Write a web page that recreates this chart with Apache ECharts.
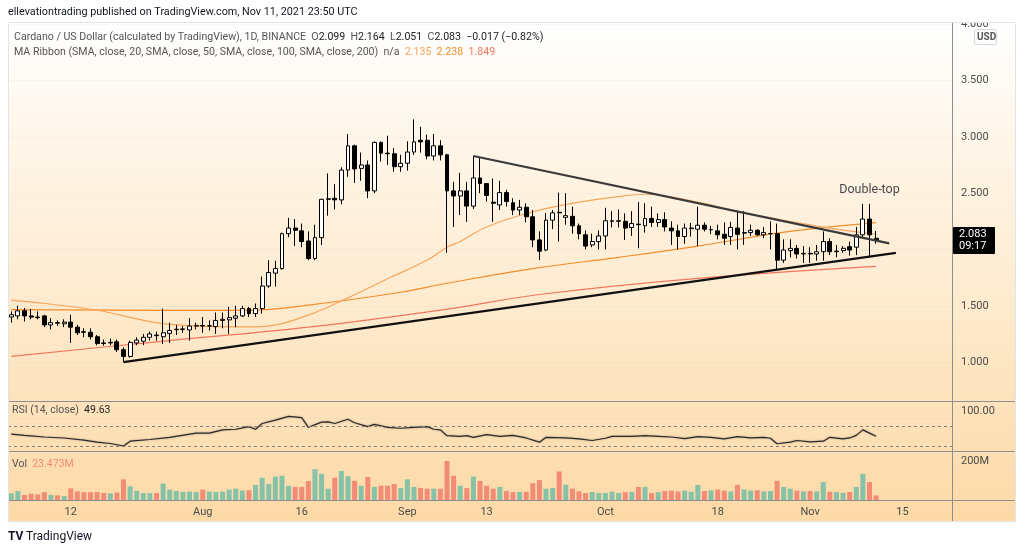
<!DOCTYPE html>
<html><head><meta charset="utf-8">
<script src="https://cdn.jsdelivr.net/npm/echarts@6/dist/echarts.min.js"></script>
<style>html,body{margin:0;padding:0;background:#fff}#c{width:1024px;height:554px}</style>
</head><body><div id="c"></div>
<script>
// ---------- DATA ----------
const startDate = '2021-07-03';
const totalDays = 143; // Jul 3 .. Nov 22 (empty future space after Nov 11)
// [open, close, low, high]
const candles = [
[1.40,1.42,1.35,1.45],[1.41,1.455,1.38,1.50],[1.455,1.41,1.36,1.48],[1.41,1.40,1.38,1.47],[1.40,1.395,1.38,1.45],
[1.41,1.33,1.31,1.42],[1.33,1.35,1.29,1.39],[1.35,1.345,1.32,1.37],[1.34,1.355,1.31,1.38],[1.355,1.31,1.17,1.42],
[1.31,1.26,1.24,1.33],[1.27,1.265,1.22,1.30],[1.265,1.225,1.20,1.30],[1.225,1.165,1.15,1.24],[1.17,1.165,1.145,1.20],
[1.17,1.175,1.15,1.21],[1.18,1.11,1.09,1.20],[1.11,1.05,1.00,1.13],[1.05,1.175,1.04,1.19],[1.17,1.195,1.15,1.22],
[1.185,1.22,1.15,1.25],[1.22,1.25,1.19,1.27],[1.24,1.235,1.19,1.27],[1.225,1.26,1.16,1.475],[1.255,1.28,1.17,1.35],
[1.288,1.292,1.24,1.33],[1.29,1.295,1.26,1.32],[1.285,1.32,1.19,1.39],[1.32,1.325,1.29,1.35],[1.325,1.32,1.26,1.40],
[1.32,1.322,1.28,1.37],[1.315,1.37,1.25,1.44],[1.37,1.38,1.30,1.44],[1.375,1.395,1.25,1.49],[1.39,1.41,1.31,1.50],
[1.41,1.475,1.40,1.50],[1.475,1.43,1.40,1.49],[1.43,1.475,1.40,1.52],[1.475,1.675,1.43,1.76],[1.675,1.795,1.66,1.905],
[1.79,1.83,1.67,1.90],[1.83,2.14,1.82,2.15],[2.14,2.19,2.11,2.28],[2.19,2.17,2.03,2.27],[2.165,2.07,2.02,2.23],
[2.075,1.92,1.905,2.16],[1.92,2.105,1.905,2.22],[2.105,2.445,2.04,2.45],[2.445,2.45,2.30,2.675],[2.455,2.44,2.355,2.58],
[2.44,2.705,2.40,2.73],[2.705,2.92,2.645,3.025],[2.92,2.715,2.59,2.93],[2.72,2.75,2.61,2.86],[2.75,2.52,2.455,2.79],
[2.52,2.95,2.50,2.96],[2.95,2.855,2.78,2.96],[2.855,2.85,2.75,3.01],[2.85,2.735,2.69,2.90],[2.735,2.765,2.69,2.84],
[2.765,2.865,2.70,2.96],[2.865,2.955,2.84,3.155],[2.97,2.955,2.86,3.09],[2.97,2.83,2.80,3.02],[2.83,2.92,2.79,3.025],
[2.92,2.84,2.79,2.97],[2.84,2.52,1.97,2.85],[2.52,2.475,2.20,2.60],[2.475,2.52,2.305,2.68],[2.52,2.385,2.245,2.60],
[2.385,2.635,2.36,2.83],[2.635,2.585,2.50,2.82],[2.585,2.48,2.425,2.59],[2.42,2.41,2.245,2.63],[2.395,2.505,2.35,2.61],
[2.505,2.425,2.38,2.53],[2.415,2.35,2.305,2.455],[2.35,2.375,2.305,2.44],[2.375,2.29,2.24,2.41],[2.29,2.085,2.02,2.35],
[2.085,1.985,1.905,2.16],[1.995,2.26,1.985,2.325],[2.26,2.325,2.18,2.35],[2.33,2.325,2.07,2.505],[2.285,2.30,2.22,2.50],
[2.295,2.21,2.14,2.38],[2.21,2.14,2.09,2.23],[2.13,2.03,2.00,2.17],[2.04,2.07,2.02,2.14],[2.07,2.12,2.00,2.17],
[2.12,2.255,2.00,2.37],[2.25,2.255,2.195,2.34],[2.25,2.255,2.195,2.355],[2.25,2.19,2.085,2.32],[2.195,2.23,2.12,2.34],
[2.225,2.22,2.01,2.42],[2.21,2.275,2.15,2.41],[2.275,2.24,2.20,2.38],[2.24,2.265,2.20,2.32],[2.265,2.20,2.16,2.33],
[2.19,2.165,2.04,2.25],[2.165,2.115,2.00,2.22],[2.115,2.19,2.05,2.23],[2.185,2.19,2.115,2.235],[2.18,2.215,2.03,2.38],
[2.215,2.18,2.16,2.24],[2.175,2.176,2.135,2.21],[2.165,2.13,2.09,2.22],[2.135,2.10,2.04,2.24],[2.115,2.195,2.04,2.245],
[2.19,2.135,2.00,2.34],[2.145,2.15,2.04,2.34],[2.15,2.17,2.12,2.22],[2.17,2.13,2.12,2.18],[2.13,2.15,2.10,2.20],
[2.14,2.141,2.00,2.25],[2.14,1.905,1.82,2.23],[1.905,1.995,1.88,2.09],[1.99,2.01,1.93,2.09],[2.01,1.96,1.92,2.04],
[1.96,1.965,1.88,2.03],[1.965,1.96,1.88,2.02],[1.96,1.98,1.90,2.04],[1.98,2.07,1.90,2.16],[2.07,1.98,1.95,2.10],
[1.98,1.985,1.93,2.04],[1.99,2.01,1.97,2.03],[2.025,1.995,1.945,2.07],[2.02,2.13,1.95,2.20],[2.13,2.27,2.10,2.405],
[2.27,2.13,1.93,2.405],[2.099,2.083,2.051,2.164]
];
// volume, millions
const volumes = [
34,46,26,32,29,40,26,24,20,60, 44,40,40,41,36,34,38,106,70,47,
36,35,36,84,53,46,42,43,41,53, 43,41,43,53,58,48,50,77,114,82,
120,124,73,67,67,97,158,134,58,114, 149,122,98,73,118,67,73,73,82,61,
106,67,61,58,58,58,200,124,73,61, 120,98,73,58,67,46,41,41,42,86,
102,58,61,146,78,58,44,36,41,36, 36,43,36,40,42,67,67,36,40,46,
48,44,48,42,77,46,49,54,48,44, 78,54,48,50,44,46,98,67,58,48,
44,46,44,92,42,41,36,41,67,134, 92,23.473
];
// [day index, value]
const rsiPoints = [[0,53.9],[2,51.3],[5,48],[8,46],[11,41.6],[13,37.7],[15,35],[17,30],[18,39.7],[21,43],[24,47.4],[28,55.8],[30,55.8],[32,62.3],[34,63.5],[36,68.7],[37,63.5],[38,75],[40,81.6],[42,89.4],[44,86.8],[45,67.4],[47,77.7],[48,78.4],[49,75],[51,83.5],[52,76.5],[54,68.7],[55,73.2],[57,67.4],[59,65.5],[61,67.4],[63,68.7],[64,63.5],[65,62.3],[66,50.6],[68,49.4],[69,50.6],[70,47.4],[72,52.6],[74,49.4],[76,51.3],[78,46.1],[80,37.7],[81,47.4],[84,46.1],[86,44.2],[88,41],[90,45.5],[91,49.4],[94,49.4],[96,50.6],[98,49.4],[100,48],[102,44.8],[104,48.7],[106,47.4],[108,44.2],[110,48.7],[112,46.1],[114,47.4],[115,45.5],[116,34.5],[118,37.7],[119,41],[121,38.4],[123,39.7],[124,47.4],[126,44.2],[127,46.1],[128,51.3],[129,62.3],[130,55.8],[131,49.63]];
const sma50Points = [[0,1.55],[5,1.52],[13,1.46],[22,1.35],[28,1.32],[36,1.313],[39,1.32],[45,1.417],[51,1.57],[57,1.74],[63,1.906],[66,2.02],[68,2.07],[72,2.2],[79,2.335],[86,2.42],[92,2.47],[96,2.49],[104,2.42],[110,2.335],[116,2.27],[124,2.19],[131,2.135]];
const sma100Points = [[0,1.465],[22,1.46],[36,1.46],[45,1.506],[59,1.62],[66,1.7],[79,1.83],[92,1.93],[104,2.03],[116,2.145],[124,2.2],[131,2.238]];
const sma200Points = [[0,1.05],[22,1.18],[45,1.31],[66,1.47],[80,1.6],[104,1.743],[131,1.849]];
const supportLine = [[17,1.00],[134,1.97]];
const resistanceLine = [[70,2.83],[133,2.054]];
const annotation = {day:130, price:2.527, text:'Double-top'};
const priceTicks = [1.0,1.5,2.0,2.5,3.0,3.5,4.0];
const timeLabels = {'07-12':'12','08-01':'Aug','08-16':'16','09-01':'Sep','09-13':'13','10-01':'Oct','10-18':'18','11-01':'Nov','11-15':'15'};
const lastPrice = 2.083, countdown = '09:17';

// ---------- BUILD ----------
const cats = [];
{ const d0 = new Date(startDate + 'T00:00:00Z');
  for (let i = 0; i < totalDays; i++) { const d = new Date(d0.getTime() + i*86400000);
    cats.push(String(d.getUTCMonth()+1).padStart(2,'0') + '-' + String(d.getUTCDate()).padStart(2,'0')); } }
const pts = a => a.map(p => [cats[p[0]], p[1]]);
const FONT = 'Roboto, "Liberation Sans", Arial, sans-serif';
const UP_V = '#85c2a7', DN_V = '#f28c76';
const C50 = '#f6a55a', C100 = '#f58d2c', C200 = '#f2765e';

const chart = echarts.init(document.getElementById('c'), null, {renderer:'canvas'});
const L = 8, R = 72;
const xBase = (gi, show) => ({type:'category', gridIndex:gi, data:cats, boundaryGap:true,
  axisLine:{show:false}, axisTick:{show:false}, splitLine:{show:false},
  axisLabel: show ? {show:true, interval:(i,v)=>timeLabels[v]!==undefined, formatter:v=>timeLabels[v]||'',
     color:'#4a4a4a', fontSize:11, fontFamily:FONT, margin:7} : {show:false}});

const option = {
  animation:false,
  grid:[
    {left:L, right:R, top:24.2, height:394.2},
    {left:L, right:R, top:401, height:50},
    {left:L, right:R, top:452, height:48}
  ],
  xAxis:[xBase(0,false), xBase(1,false), xBase(2,true)],
  yAxis:[
    {type:'value', gridIndex:0, position:'right', min:0.5, max:4.0, interval:0.5,
     axisLine:{show:false}, axisTick:{show:false},
     splitLine:{show:true, lineStyle:{color:'rgba(180,180,180,0.18)', type:'dotted'}},
     axisLabel:{formatter:v=>priceTicks.includes(v)?v.toFixed(3):'', color:'#4a4a4a', fontSize:11, fontFamily:FONT, margin:9}},
    {type:'value', gridIndex:1, position:'right', min:20, max:120, interval:10,
     axisLine:{show:false}, axisTick:{show:false}, splitLine:{show:false},
     axisLabel:{formatter:v=>v===100?'100.00':'', color:'#4a4a4a', fontSize:11, fontFamily:FONT, margin:9}},
    {type:'value', gridIndex:2, position:'right', min:0, max:246, interval:200,
     axisLine:{show:false}, axisTick:{show:false}, splitLine:{show:false},
     axisLabel:{formatter:v=>v===200?'200M':'', color:'#4a4a4a', fontSize:11, fontFamily:FONT, margin:9}}
  ],
  series:[
    {type:'line', xAxisIndex:0, yAxisIndex:0, data:pts(sma200Points), symbol:'none', smooth:0.4, lineStyle:{color:C200, width:1.2}, z:3},
    {type:'line', xAxisIndex:0, yAxisIndex:0, data:pts(sma100Points), symbol:'none', smooth:0.4, lineStyle:{color:C100, width:1.2}, z:3},
    {type:'line', xAxisIndex:0, yAxisIndex:0, data:pts(sma50Points), symbol:'none', smooth:0.4, lineStyle:{color:C50, width:1.2}, z:3},
    {type:'candlestick', xAxisIndex:0, yAxisIndex:0, data:candles, barWidth:4.4, z:5,
     itemStyle:{color:'#ffffff', color0:'#000000', borderColor:'#000000', borderColor0:'#000000', borderWidth:1}},
    {type:'line', xAxisIndex:0, yAxisIndex:0, data:pts(supportLine), symbol:'none', lineStyle:{color:'#111', width:2.2}, z:6},
    {type:'line', xAxisIndex:0, yAxisIndex:0, data:pts(resistanceLine), symbol:'none', lineStyle:{color:'#3a3a3a', width:2.2}, z:6},
    {type:'scatter', xAxisIndex:0, yAxisIndex:0, data:[[cats[annotation.day], annotation.price]], symbolSize:0, z:7,
     label:{show:true, position:'inside', formatter:annotation.text, color:'#131722', fontSize:12.5, fontFamily:FONT}},
    {type:'line', xAxisIndex:1, yAxisIndex:1, data:pts(rsiPoints), symbol:'none',
     lineStyle:{color:'#2a2a2a', width:1.2, shadowColor:'rgba(0,0,0,0.35)', shadowBlur:2}, z:4,
     markLine:{silent:true, symbol:'none', label:{show:false},
       lineStyle:{color:'#808080', type:[3,3], width:1}, data:[{yAxis:70},{yAxis:30}]}},
    {type:'bar', xAxisIndex:2, yAxisIndex:2, barWidth:5,
     data:volumes.map((v,i)=>({value:v, itemStyle:{color: candles[i][1] >= candles[i][0] ? UP_V : DN_V}}))}
  ]
};
chart.setOption(option);

const yTag = chart.convertToPixel({gridIndex:0}, [cats[0], lastPrice])[1];

const bg = new echarts.graphic.LinearGradient(0,0,0,1,[
  {offset:0, color:'#ffffff'},{offset:0.2, color:'#fff7ec'},{offset:0.55, color:'#feebcf'},{offset:1, color:'#fdd9a6'}]);
const sep = '#8e8e8e';
const F = '10.6px '+FONT;
chart.setOption({graphic:[
  {type:'rect', z:-10, silent:true, shape:{x:8, y:22, width:1008, height:500}, style:{fill:bg}},
  {type:'rect', z:100, silent:true, shape:{x:0, y:0, width:1024, height:22}, style:{fill:'#ffffff'}},
  {type:'rect', z:101, silent:true, shape:{x:8.5, y:22.5, width:1007, height:499}, style:{fill:'none', stroke:'#e3e3e3', lineWidth:1}},
  {type:'line', z:50, silent:true, shape:{x1:8, y1:401.5, x2:1016, y2:401.5}, style:{stroke:sep, lineWidth:1}},
  {type:'line', z:50, silent:true, shape:{x1:8, y1:451.5, x2:1016, y2:451.5}, style:{stroke:sep, lineWidth:1}},
  {type:'line', z:50, silent:true, shape:{x1:8, y1:500.5, x2:1016, y2:500.5}, style:{stroke:sep, lineWidth:1}},
  {type:'line', z:50, silent:true, shape:{x1:952.5, y1:22, x2:952.5, y2:522}, style:{stroke:sep, lineWidth:1}},
  {type:'text', z:102, left:8, top:7, style:{text:'ellevationtrading published on TradingView.com, Nov 11, 2021 23:50 UTC', fill:'#131722', font:'10.8px '+FONT}},
  {type:'text', z:102, left:14, top:32, style:{text:'{g|Cardano / US Dollar (calculated by TradingView), 1D, BINANCE}  {g|O}{d|2.099}  {g|H}{d|2.164}  {g|L}{d|2.051}  {g|C}{d|2.083}  {d|−0.017 (−0.82%)}',
     font:F, rich:{g:{fill:'#555', font:F}, d:{fill:'#222', font:F}}}},
  {type:'text', z:102, left:14, top:47, style:{text:'{g|MA Ribbon (SMA, close, 20, SMA, close, 50, SMA, close, 100, SMA, close, 200)}  {g|n/a}  {a|2.135}  {b|2.238}  {c|1.849}',
     font:F, rich:{g:{fill:'#555', font:F}, a:{fill:C50, font:F}, b:{fill:C100, font:F}, c:{fill:C200, font:F}}}},
  {type:'rect', z:102, shape:{x:974.5, y:29.5, width:22, height:15, r:2}, style:{fill:'#ffffff', stroke:'#d6d6d6'}},
  {type:'text', z:103, left:977, top:32, style:{text:'USD', fill:'#555', font:'bold 10px '+FONT}},
  {type:'rect', z:102, shape:{x:953, y:yTag-13, width:42, height:27, r:1}, style:{fill:'#000'}},
  {type:'text', z:103, left:959, top:yTag-12, style:{text:lastPrice.toFixed(3)+'\n'+countdown, fill:'#fff', font:'11px '+FONT, lineHeight:12}},
  {type:'text', z:102, left:12, top:405, style:{text:'RSI (14, close)  {d|49.63}', fill:'#555', font:'10.5px '+FONT, rich:{d:{fill:'#222', font:'10.5px '+FONT}}}},
  {type:'text', z:102, left:12, top:459, style:{text:'Vol  {d|23.473M}', fill:'#555', font:'10.5px '+FONT, rich:{d:{fill:DN_V, font:'10.5px '+FONT}}}},
  {type:'text', z:102, left:8, top:531, style:{text:'TV', fill:'#131722', font:'bold 12px '+FONT}},
  {type:'text', z:102, left:26, top:531, style:{text:'TradingView', fill:'#131722', font:'12px '+FONT}}
]});
</script></body></html>
